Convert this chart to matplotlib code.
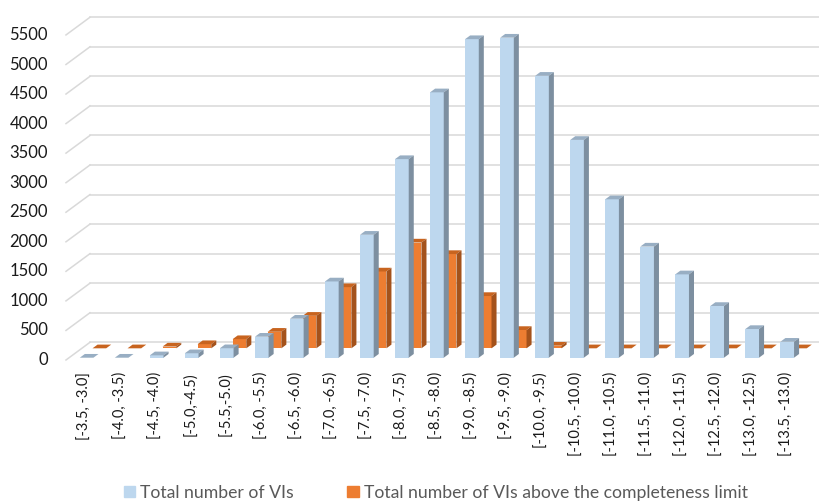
import matplotlib.pyplot as plt
from matplotlib.patches import Polygon, Patch

plt.rcParams['font.family'] = ['Lato', 'DejaVu Sans']

bins = ["[-3.5, -3.0]", "[-4.0, -3.5)", "[-4.5, -4.0)", "[-5.0,-4.5)", "[-5.5,-5.0)",
        "[-6.0, -5.5)", "[-6.5, -6.0)", "[-7.0, -6.5)", "[-7.5, -7.0)", "[-8.0, -7.5)",
        "[-8.5, -8.0)", "[-9.0, -8.5)", "[-9.5, -9.0)", "[-10.0, -9.5)", "[-10.5, -10.0)",
        "[-11.0, -10.5)", "[-11.5, -11.0)", "[-12.0, -11.5)", "[-12.5, -12.0)",
        "[-13.0, -12.5)", "[-13.5, -13.0)"]
total_vis = [0, 0, 40, 75, 160, 355, 660, 1290, 2080, 3360, 4490, 5390, 5415,
             4770, 3685, 2680, 1880, 1410, 875, 485, 270]
above_limit = [0, 0, 30, 70, 155, 280, 550, 1035, 1300, 1790, 1595, 885, 310,
               45, 0, 0, 0, 0, 0, 0, 0]
yticks = list(range(0, 5501, 500))

# pixel scale of the oblique projection
PX = 35.03     # pixels per category
PY = 0.0591    # pixels per unit of value
DEPTH = (24 / PX, 17.7 / PY)   # full depth of the floor, in data units

BLUE = ('#BDD7EE', '#98AEC3', '#7D8FA0')
ORANGE = ('#ED7D31', '#C8641F', '#A4521B')


def shift(x, y, f):
    return x + DEPTH[0] * f, y + DEPTH[1] * f


def draw_column(ax, i, value, d0, dd, colors, width=0.39):
    front, top, side = colors
    x0, y0 = shift(i - width / 2, 0, d0)
    ax.bar(x0, value, width=width, bottom=y0, align='edge', color=front,
           linewidth=0)
    x1 = x0 + width
    y1 = y0 + value
    bx, by = DEPTH[0] * dd, DEPTH[1] * dd
    ax.add_patch(Polygon([(x0, y1), (x1, y1), (x1 + bx, y1 + by),
                          (x0 + bx, y1 + by)], closed=True, color=top, lw=0))
    ax.add_patch(Polygon([(x1, y0), (x1, y1), (x1 + bx, y1 + by),
                          (x1 + bx, y0 + by)], closed=True, color=side, lw=0))


fig = plt.figure(figsize=(8.19, 5.03), dpi=100)
ax = fig.add_axes([0, 0, 1, 1])
ax.set_xlim(-83.5 / PX, (819 - 83.5) / PX)
ax.set_ylim(-143 / PY, (503 - 143) / PY)
ax.axis('off')

# back wall and side wall gridlines
for v in yticks:
    bx, by = shift(-0.5, v, 1.0)
    ax.plot([-0.5, bx], [v, by], color='#D9D9D9', lw=1.1, zorder=0)
    ax.plot([bx, 25], [by, by], color='#D9D9D9', lw=1.1, zorder=0)
    ax.text(-1.013, v, str(v), ha='right', va='center', fontsize=12,
            color='#1A1A1A')

for i, v in enumerate(above_limit):
    draw_column(ax, i, v, 0.66, 0.21, ORANGE)
for i, v in enumerate(total_vis):
    draw_column(ax, i, v, 0.13, 0.21, BLUE)

for i, label in enumerate(bins):
    ax.text(i + 0.04, -203, label, rotation=90, ha='center', va='top',
            fontsize=10.5, color='#1A1A1A')

handles = [Patch(color=BLUE[0], label='Total number of VIs'),
           Patch(color=ORANGE[0], label='Total number of VIs above the completeness limit')]
fig.legend(handles=handles, loc='lower center', bbox_to_anchor=(0.532, -0.027),
           ncol=2, frameon=False, fontsize=12.7, labelcolor='#595959',
           handlelength=0.65, handleheight=0.65, handletextpad=0.3,
           columnspacing=3.0)

fig.savefig('out.png', dpi=100)
